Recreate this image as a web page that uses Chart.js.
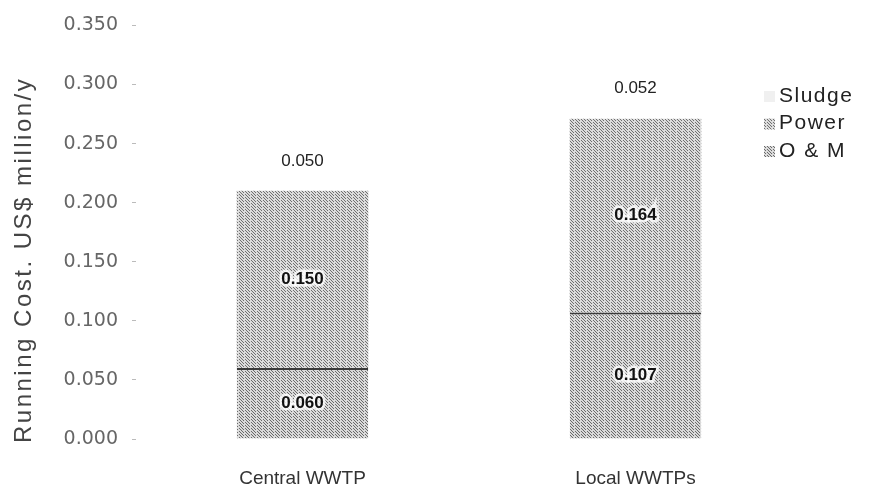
<!DOCTYPE html>
<html>
<head>
<meta charset="utf-8">
<script src="https://cdn.jsdelivr.net/npm/chart.js@4"></script>
<style>
  html, body { margin: 0; padding: 0; background: #fff; }
  canvas { display: block; }
</style>
</head>
<body>
<canvas id="costChart" width="882" height="491"></canvas>
<script>
const categories = ["Central WWTP", "Local WWTPs"];
const omValues = [0.060, 0.107];
const powerValues = [0.150, 0.164];
const sludgeValues = [0.050, 0.052];
const yTicks = [0, 0.05, 0.10, 0.15, 0.20, 0.25, 0.30, 0.35];
const legendLabels = ["Sludge", "Power", "O & M"];
const yTitle = "Running Cost. US$ million/y";

// broken diagonal hatch, like the scanned original
function makeHatch(bg, fg, step) {
  const c = document.createElement("canvas");
  c.width = step; c.height = step;
  const g = c.getContext("2d");
  g.fillStyle = bg;
  g.fillRect(0, 0, step, step);
  g.fillStyle = fg;
  for (let i = 0; i < step; i++) {
    if (i !== 4) g.fillRect(i, i, 1, 1);
    if (i !== 1) g.fillRect((i + 3) % step, i, 1, 1);
  }
  return g.createPattern(c, "repeat");
}

const ctx = document.getElementById("costChart").getContext("2d");
const omFill = makeHatch("#dadada", "#6a6a6a", 6);
const powerFill = makeHatch("#dcdcdc", "#707070", 6);

// value labels in the middle of each segment
const segmentLabels = {
  id: "segmentLabels",
  afterDatasetsDraw(chart) {
    const c = chart.ctx;
    c.save();
    c.textAlign = "center";
    c.textBaseline = "middle";
    chart.data.datasets.forEach((ds, i) => {
      const meta = chart.getDatasetMeta(i);
      meta.data.forEach((bar, j) => {
        const y = (bar.y + bar.base) / 2;
        const txt = ds.data[j].toFixed(3);
        if (i === 2) {
          c.font = "17px 'Liberation Sans'";
          c.fillStyle = "#222";
          c.fillText(txt, bar.x, y);
        } else {
          c.font = "bold 17px 'Liberation Sans'";
          c.lineWidth = 5;
          c.strokeStyle = "rgba(255,255,255,0.8)";
          c.strokeText(txt, bar.x, y);
          c.fillStyle = "#111";
          c.fillText(txt, bar.x, y);
        }
      });
    });
    c.restore();
  }
};

// legend on the right and the rotated axis title
const sideText = {
  id: "sideText",
  afterDraw(chart) {
    const c = chart.ctx;
    const fills = ["#f0f0f0", powerFill, omFill];
    c.save();
    c.font = "21px 'Liberation Sans'";
    c.letterSpacing = "1.5px";
    c.textBaseline = "middle";
    legendLabels.forEach((lab, i) => {
      const y = 96 + i * 27.5;
      c.fillStyle = fills[i];
      c.fillRect(764, y - 5, 11, 11);
      c.fillStyle = "#222";
      c.fillText(lab, 779, y);
    });
    c.restore();

    c.save();
    c.translate(31, 443);
    c.rotate(-Math.PI / 2);
    c.font = "24px 'Liberation Sans'";
    c.letterSpacing = "2.5px";
    c.fillStyle = "#444";
    c.textBaseline = "alphabetic";
    c.fillText(yTitle, 0, 0);
    c.restore();
  }
};

new Chart(ctx, {
  type: "bar",
  data: {
    labels: categories,
    datasets: [
      {
        label: "O & M",
        data: omValues,
        backgroundColor: omFill,
        borderColor: "#3a3a3a",
        borderWidth: { top: 2, left: 0, right: 0, bottom: 0 },
        borderSkipped: false
      },
      {
        label: "Power",
        data: powerValues,
        backgroundColor: powerFill,
        borderWidth: 0
      },
      {
        label: "Sludge",
        data: sludgeValues,
        backgroundColor: "#ffffff",
        borderWidth: 0
      }
    ]
  },
  options: {
    responsive: false,
    animation: false,
    categoryPercentage: 1,
    barPercentage: 0.395,
    layout: { padding: { top: -11, left: 5, right: 80, bottom: 0 } },
    plugins: {
      legend: { display: false },
      tooltip: { enabled: false }
    },
    scales: {
      x: {
        stacked: true,
        grid: { display: false },
        border: { display: false },
        ticks: {
          color: "#333",
          padding: 20,
          font: { family: "'Liberation Sans'", size: 19 }
        },
        afterFit(scale) { scale.height = 52; }
      },
      y: {
        stacked: true,
        min: 0,
        max: 0.35,
        afterBuildTicks(scale) {
          scale.ticks = yTicks.map(v => ({ value: v }));
        },
        grid: {
          drawOnChartArea: false,
          tickLength: 4,
          color: "#bbb"
        },
        border: { display: false },
        ticks: {
          color: "#666",
          padding: 14,
          font: { family: "'DejaVu Sans'", size: 19 },
          callback: v => v.toFixed(3)
        },
        afterFit(scale) { scale.width = 131; }
      }
    }
  },
  plugins: [segmentLabels, sideText]
});
</script>
</body>
</html>
